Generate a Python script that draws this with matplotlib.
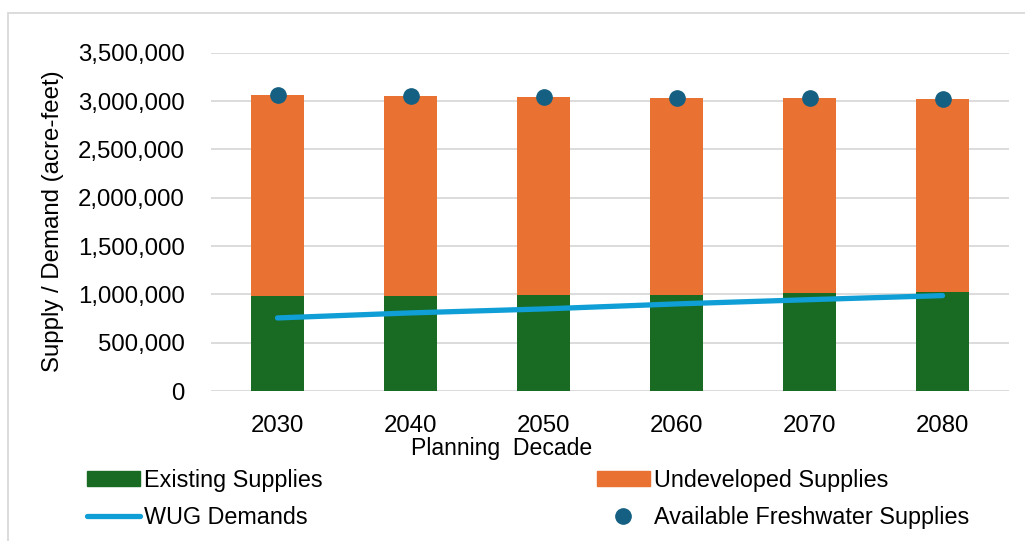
import matplotlib
matplotlib.use("Agg")
import matplotlib.pyplot as plt
from matplotlib.lines import Line2D
from matplotlib.patches import Patch, Rectangle
from matplotlib.ticker import FuncFormatter

# Supply and demand by planning decade (acre-feet)
decades = ["2030", "2040", "2050", "2060", "2070", "2080"]
existing = [979000, 986000, 990000, 997000, 1010000, 1021000]
available = [3058000, 3052000, 3045000, 3034000, 3027000, 3020000]
undeveloped = [a - e for a, e in zip(available, existing)]
demands = [756000, 808000, 849000, 901000, 945000, 987000]

GREEN = "#196B24"
ORANGE = "#E97132"
LIGHT_BLUE = "#0F9ED5"
DARK_BLUE = "#156082"

plt.rcParams["font.family"] = ["Liberation Sans", "DejaVu Sans"]

fig = plt.figure(figsize=(10.25, 5.41), dpi=100)
ax = fig.add_axes([211 / 1025, 1 - 391 / 541, 798 / 1025, 338.3 / 541])

x = list(range(len(decades)))
ax.bar(x, existing, width=0.4, color=GREEN, zorder=2, label="Existing Supplies")
ax.bar(x, undeveloped, width=0.4, bottom=existing, color=ORANGE, zorder=2,
       label="Undeveloped Supplies")
ax.plot(x, demands, color=LIGHT_BLUE, lw=3.8, solid_capstyle="round", zorder=3,
        label="WUG Demands")
ax.plot(x, available, "o", color=DARK_BLUE, ms=11, zorder=4,
        label="Available Freshwater Supplies")

ax.set_xlim(-0.5, 5.5)
ax.set_ylim(0, 3500000)
ax.set_yticks(range(0, 3500001, 500000))
ax.yaxis.set_major_formatter(FuncFormatter(lambda v, p: f"{int(v):,}"))
ax.set_xticks(x)
ax.set_xticklabels(decades)
ax.tick_params(length=0, labelsize=17.3, colors="black")
ax.tick_params(axis="x", pad=17)
ax.tick_params(axis="y", pad=19)
ax.grid(axis="y", color="#D9D9D9", lw=1.3, zorder=0)
for s in ax.spines.values():
    s.set_visible(False)

fig.text(53 / 1025, 1 - 221 / 541, "Supply / Demand (acre-feet)", fontsize=17.3,
         rotation=90, ha="center", va="center")
fig.text(502 / 1025, 1 - 449 / 541, "Planning  Decade", fontsize=16.6,
         ha="center", va="center")

# chart border
fig.patches.append(Rectangle((8 / 1025, -0.1), 1.2, 1 - 13 / 541 + 0.1,
                             transform=fig.transFigure, fill=False,
                             edgecolor="#D9D9D9", lw=1.3))

leg_kw = dict(loc="upper left", frameon=False, prop={"size": 16.8},
              borderpad=0, borderaxespad=0, handlelength=2.25,
              handletextpad=0.2, labelspacing=0.6, handleheight=0.62)
left_handles = [Patch(color=GREEN),
                Line2D([], [], color=LIGHT_BLUE, lw=3.8, solid_capstyle="round")]
right_handles = [Patch(color=ORANGE),
                 Line2D([], [], ls="none", marker="o", color=DARK_BLUE, ms=11)]
fig.legend(left_handles, ["Existing Supplies", "WUG Demands"],
           bbox_to_anchor=(87 / 1025, 1 - 469 / 541), **leg_kw)
fig.legend(right_handles, ["Undeveloped Supplies", "Available Freshwater Supplies"],
           bbox_to_anchor=(597 / 1025, 1 - 469 / 541), **leg_kw)

fig.savefig("out.png", dpi=100)
